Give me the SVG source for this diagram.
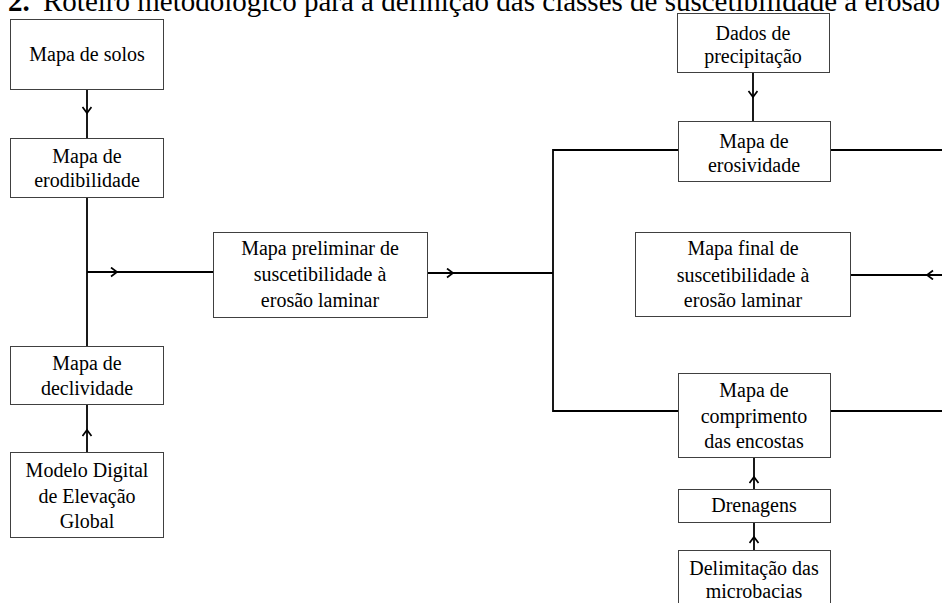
<svg xmlns="http://www.w3.org/2000/svg" width="942" height="603" viewBox="0 0 942 603">
<style>
.box{fill:#fff;stroke:#404040;stroke-width:1}
.t{font-family:"Liberation Serif","Times New Roman",serif;font-size:20px;fill:#000;text-anchor:middle}
.title{font-family:"Liberation Serif","Times New Roman",serif;font-size:29px;fill:#000}
.c{fill:none;stroke:#000;stroke-width:1.8}
</style>
<defs>
<marker id="chev" markerUnits="userSpaceOnUse" markerWidth="12" markerHeight="12" refX="7" refY="5" orient="auto">
<path d="M1,0.5 L7,5 L1,9.5" fill="none" stroke="#000" stroke-width="1.7"/>
</marker>
</defs>
<rect width="942" height="603" fill="#fff"/>
<g id="title">
<text class="title" x="8" y="11" font-weight="bold">2.</text>
<text class="title" x="43" y="11">Roteiro metodológico para a definição das classes de suscetibilidade à erosão</text>
</g>
<g id="connectors">
<path class="c" d="M87,89 L87,113 L87,138" marker-mid="url(#chev)"/>
<path class="c" d="M87,197 L87,346"/>
<path class="c" d="M87,272 L117,272 L213,272" marker-mid="url(#chev)"/>
<path class="c" d="M87,452 L87,430 L87,404" marker-mid="url(#chev)"/>
<path class="c" d="M427,273 L453,273 L553,273" marker-mid="url(#chev)"/>
<path class="c" d="M678,150 L553,150 L553,411 L678,411"/>
<path class="c" d="M831,150 L942,150"/>
<path class="c" d="M831,411 L942,411"/>
<path class="c" d="M942,275 L927,275 L850,275" marker-mid="url(#chev)"/>
<path class="c" d="M753,72 L753,97 L753,121" marker-mid="url(#chev)"/>
<path class="c" d="M754,489 L754,477 L754,457" marker-mid="url(#chev)"/>
<path class="c" d="M754,550 L754,537 L754,522" marker-mid="url(#chev)"/>
</g>
<g id="solos">
<rect class="box" x="10.5" y="19.5" width="153" height="70"/>
<text class="t" x="87" y="61">Mapa de solos</text>
</g>
<g id="erodibilidade">
<rect class="box" x="10.5" y="138.5" width="153" height="59"/>
<text class="t" x="87" y="163">Mapa de</text>
<text class="t" x="87" y="187">erodibilidade</text>
</g>
<g id="declividade">
<rect class="box" x="10.5" y="346.5" width="153" height="58"/>
<text class="t" x="87" y="370">Mapa de</text>
<text class="t" x="87" y="395">declividade</text>
</g>
<g id="mde">
<rect class="box" x="10.5" y="452.5" width="153" height="85"/>
<text class="t" x="87" y="477">Modelo Digital</text>
<text class="t" x="87" y="503">de Elevação</text>
<text class="t" x="87" y="528">Global</text>
</g>
<g id="preliminar">
<rect class="box" x="213.5" y="232.5" width="214" height="85"/>
<text class="t" x="320" y="255">Mapa preliminar de</text>
<text class="t" x="320" y="281">suscetibilidade à</text>
<text class="t" x="320" y="307">erosão laminar</text>
</g>
<g id="dados">
<rect class="box" x="677.5" y="13.5" width="152" height="59"/>
<text class="t" x="753" y="40">Dados de</text>
<text class="t" x="753" y="63">precipitação</text>
</g>
<g id="erosividade">
<rect class="box" x="678.5" y="121.5" width="152" height="60"/>
<text class="t" x="754" y="148">Mapa de</text>
<text class="t" x="754" y="172">erosividade</text>
</g>
<g id="final">
<rect class="box" x="635.5" y="232.5" width="215" height="84"/>
<text class="t" x="743" y="255">Mapa final de</text>
<text class="t" x="743" y="282">suscetibilidade à</text>
<text class="t" x="743" y="307">erosão laminar</text>
</g>
<g id="comprimento">
<rect class="box" x="678.5" y="373.5" width="152" height="84"/>
<text class="t" x="754" y="397">Mapa de</text>
<text class="t" x="754" y="423">comprimento</text>
<text class="t" x="754" y="448">das encostas</text>
</g>
<g id="drenagens">
<rect class="box" x="678.5" y="489.5" width="152" height="33"/>
<text class="t" x="754" y="512">Drenagens</text>
</g>
<g id="delimitacao">
<rect class="box" x="678.5" y="550.5" width="152" height="60"/>
<text class="t" x="754" y="575">Delimitação das</text>
<text class="t" x="754" y="598">microbacias</text>
</g>
</svg>
